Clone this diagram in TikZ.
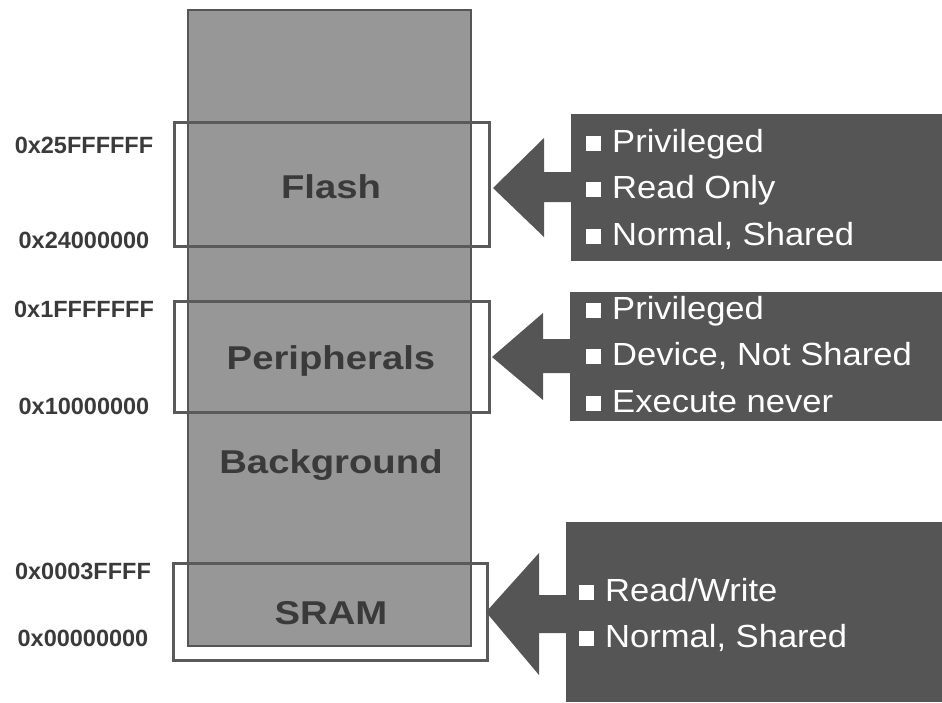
\documentclass[tikz,border=0pt]{standalone}
\usepackage{fontspec}
\setmainfont{Liberation Sans}
\newfontfamily\colfont[FakeStretch=1.16]{Liberation Sans}
\newfontfamily\panfont[FakeStretch=1.08]{Liberation Sans}
\definecolor{colgrey}{HTML}{979797}
\definecolor{dark}{HTML}{555555}
\definecolor{edge}{HTML}{5A5A5A}
\definecolor{txt}{HTML}{3A3A3A}
\newcommand{\bul}{\textcolor{white}{\rule[1.5pt]{15pt}{15pt}}\hspace{11pt}}
\begin{document}
\begin{tikzpicture}[x=1pt,y=-1pt,
  memcol/.style={draw=dark, line width=1.5pt, fill=colgrey, anchor=north west, inner sep=0pt, outer sep=0pt},
  region/.style={draw=edge, line width=3pt, anchor=north west, inner sep=0pt, outer sep=0pt},
  panel/.style={fill=dark, anchor=north west, inner sep=0pt, outer sep=0pt},
  addr/.style={font=\bfseries\fontsize{23.5}{28}\selectfont, text=txt, anchor=center, inner sep=0pt},
  collabel/.style={font=\colfont\bfseries\fontsize{33}{40}\selectfont, text=txt, anchor=base, inner sep=0pt},
  item/.style={font=\panfont\fontsize{32}{38}\selectfont, text=white, anchor=base west, inner sep=0pt},
  blockarrow/.style={fill=dark, draw=none}]
\path[use as bounding box] (0,0) rectangle (942,702);

% memory column
\node[memcol, minimum width=283pt, minimum height=636pt] (col) at (188,10) {};

% region outlines
\node[region, minimum width=315pt, minimum height=124pt] (flash) at (174,122) {};
\node[region, minimum width=315pt, minimum height=111pt] (peri) at (174,301) {};
\node[region, minimum width=314pt, minimum height=97pt] (sram) at (173,563) {};

% column labels
\node[collabel] (lflash) at (331,198) {Flash};
\node[collabel] (lperi) at (331,369) {Peripherals};
\node[collabel] (lback) at (331,473) {Background};
\node[collabel] (lsram) at (331,624) {SRAM};

% addresses
\node[addr] (a1) at (84,145) {0x25FFFFFF};
\node[addr] (a2) at (84,240) {0x24000000};
\node[addr] (a3) at (84,309) {0x1FFFFFFF};
\node[addr] (a4) at (84,406) {0x10000000};
\node[addr] (a5) at (83,571) {0x0003FFFF};
\node[addr] (a6) at (83,638) {0x00000000};

% panels
\node[panel, minimum width=371pt, minimum height=147pt] (p1) at (571,114) {};
\node[panel, minimum width=372pt, minimum height=129pt] (p2) at (570,292) {};
\node[panel, minimum width=376pt, minimum height=180pt] (p3) at (566,522) {};

% block arrows
\fill[blockarrow] ([xshift=1pt]p1.west |- 0,172) -- (544,172) -- (544,138) -- (493,188)
  -- (544,237) -- (544,202) -- ([xshift=1pt]p1.west |- 0,202) -- cycle;
\fill[blockarrow] ([xshift=1pt]p2.west |- 0,339) -- (543,339) -- (543,313) -- (492,357)
  -- (543,400) -- (543,373) -- ([xshift=1pt]p2.west |- 0,373) -- cycle;
\fill[blockarrow] ([xshift=1pt]p3.west |- 0,595) -- (539,595) -- (539,553) -- (486,612)
  -- (539,675) -- (539,633) -- ([xshift=1pt]p3.west |- 0,633) -- cycle;

% panel items
\node[item] (i11) at (586,152) {\bul Privileged};
\node[item] (i12) at (586,198) {\bul Read Only};
\node[item] (i13) at (586,245) {\bul Normal, Shared};
\node[item] (i21) at (586,319) {\bul Privileged};
\node[item] (i22) at (586,365) {\bul Device, Not Shared};
\node[item] (i23) at (586,412) {\bul Execute never};
\node[item] (i31) at (579,601) {\bul Read/Write};
\node[item] (i32) at (579,647) {\bul Normal, Shared};
\end{tikzpicture}
\end{document}
